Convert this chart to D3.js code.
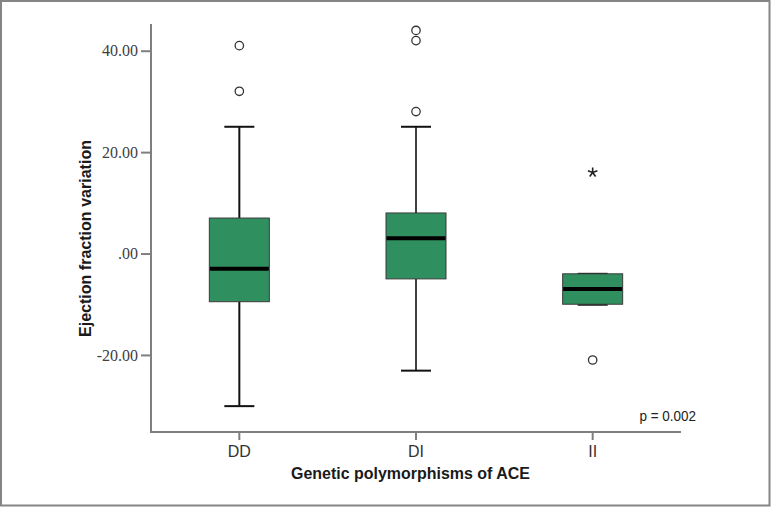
<!DOCTYPE html>
<html>
<head>
<meta charset="utf-8">
<script src="https://cdn.jsdelivr.net/npm/d3@7"></script>
<style>
  html, body { margin: 0; padding: 0; background: #fff; }
  svg { display: block; }
</style>
</head>
<body>
<svg id="chart" width="771" height="507"></svg>
<script>
// ---- data ----
const categories = ["DD", "DI", "II"];
const whiskerLow = [-30, -23, -10];
const q1 = [-9.5, -5, -10];
const median = [-3, 3, -7];
const q3 = [7, 8, -4];
const whiskerHigh = [25, 25, -4];
const outlierCats = ["DD", "DD", "DI", "DI", "DI", "II"];
const outlierValues = [41, 32, 44, 42, 28, -21];
const extremeCats = ["II"];
const extremeValues = [16];
const yTicks = [-20, 0, 20, 40];
const yTickLabels = ["-20.00", ".00", "20.00", "40.00"];
const xTitle = "Genetic polymorphisms of ACE";
const yTitle = "Ejection fraction variation";
const note = "p = 0.002";

(function () {
// ---- layout ----
const svg = d3.select("#chart");
const W = 771, H = 507;
const pLeft = 151, pRight = 681, pTop = 24, pBottom = 432;

svg.append("rect")
  .attr("x", 1).attr("y", 1).attr("width", W - 2.5).attr("height", H - 2.5)
  .attr("fill", "#fff").attr("stroke", "#858585").attr("stroke-width", 2);

const x = d3.scaleBand().domain(categories).range([pLeft, pRight]).padding(0);
const y = d3.scaleLinear().domain([-35.2, 45.27]).range([pBottom, pTop]);

const boxW = 60, capW = 30;
const fill = "#2f8f5e";

// axes
const yAxis = d3.axisLeft(y).tickValues(yTicks)
  .tickFormat((d, i) => yTickLabels[i]).tickSize(10).tickPadding(3).tickSizeOuter(0);
const gy = svg.append("g").attr("transform", `translate(${pLeft},0)`).call(yAxis);
gy.select(".domain").attr("stroke", "#7f7f7f").attr("stroke-width", 2)
  .attr("d", `M0,${pTop}V${pBottom}`);
gy.selectAll(".tick line").attr("stroke", "#7f7f7f").attr("stroke-width", 2);
gy.selectAll(".tick text").attr("font-family", "Liberation Serif, serif")
  .attr("font-size", 16).attr("fill", "#404040");

const xAxis = d3.axisBottom(x).tickSize(8).tickPadding(6).tickSizeOuter(0);
const gx = svg.append("g").attr("transform", `translate(0,${pBottom})`).call(xAxis);
gx.select(".domain").attr("stroke", "#7f7f7f").attr("stroke-width", 2)
  .attr("d", `M${pLeft - 1},0H${pRight}`);
gx.selectAll(".tick line").attr("stroke", "#7f7f7f").attr("stroke-width", 2);
gx.selectAll(".tick text").attr("font-family", "Liberation Sans, Arial, sans-serif")
  .attr("font-size", 16).attr("fill", "#333");

// boxes
const groups = svg.append("g").selectAll("g").data(categories).join("g");
const cx = d => x(d) + x.bandwidth() / 2;

groups.append("line")
  .attr("x1", cx).attr("x2", cx)
  .attr("y1", (d, i) => y(whiskerHigh[i])).attr("y2", (d, i) => y(q3[i]))
  .attr("stroke", "#111").attr("stroke-width", (d, i) => i === 1 ? 1.6 : 2);
groups.append("line")
  .attr("x1", cx).attr("x2", cx)
  .attr("y1", (d, i) => y(q1[i])).attr("y2", (d, i) => y(whiskerLow[i]))
  .attr("stroke", "#111").attr("stroke-width", (d, i) => i === 1 ? 1.6 : 2);
groups.append("line")
  .attr("x1", d => cx(d) - capW / 2).attr("x2", d => cx(d) + capW / 2)
  .attr("y1", (d, i) => y(whiskerHigh[i])).attr("y2", (d, i) => y(whiskerHigh[i]))
  .attr("stroke", "#111").attr("stroke-width", 2);
groups.append("line")
  .attr("x1", d => cx(d) - capW / 2).attr("x2", d => cx(d) + capW / 2)
  .attr("y1", (d, i) => y(whiskerLow[i]) + 0.5).attr("y2", (d, i) => y(whiskerLow[i]) + 0.5)
  .attr("stroke", "#111").attr("stroke-width", 2);

groups.append("rect")
  .attr("x", d => cx(d) - boxW / 2).attr("width", boxW)
  .attr("y", (d, i) => y(q3[i])).attr("height", (d, i) => y(q1[i]) - y(q3[i]))
  .attr("fill", fill).attr("stroke", "#3a3a3a").attr("stroke-width", 1);

groups.append("line")
  .attr("x1", d => cx(d) - boxW / 2 + 0.5).attr("x2", d => cx(d) + boxW / 2 - 0.5)
  .attr("y1", (d, i) => y(median[i])).attr("y2", (d, i) => y(median[i]))
  .attr("stroke", "#000").attr("stroke-width", 4);

// outliers
svg.append("g").selectAll("circle").data(outlierValues).join("circle")
  .attr("cx", (d, i) => cx(outlierCats[i])).attr("cy", d => y(d))
  .attr("r", 4.2).attr("fill", "#fff").attr("stroke", "#333").attr("stroke-width", 1.3);

// extremes (asterisk)
const star = d3.path();
for (let k = 0; k < 5; k++) {
  const a = -Math.PI / 2 + k * 2 * Math.PI / 5;
  star.moveTo(0, 0); star.lineTo(5 * Math.cos(a), 5 * Math.sin(a));
}
svg.append("g").selectAll("path").data(extremeValues).join("path")
  .attr("transform", (d, i) => `translate(${cx(extremeCats[i])},${y(d)})`)
  .attr("d", star.toString()).attr("fill", "none").attr("stroke", "#222").attr("stroke-width", 1.6);

// titles
svg.append("text")
  .attr("x", 410.5).attr("y", 478.5).attr("text-anchor", "middle")
  .attr("font-family", "Liberation Sans, Arial, sans-serif").attr("font-weight", "bold")
  .attr("font-size", 16.8).attr("fill", "#1a1a1a")
  .attr("textLength", 239).attr("lengthAdjust", "spacingAndGlyphs")
  .text(xTitle);

svg.append("text")
  .attr("transform", "translate(90.5,238.5) rotate(-90)").attr("text-anchor", "middle")
  .attr("font-family", "Liberation Sans, Arial, sans-serif").attr("font-weight", "bold")
  .attr("font-size", 16.8).attr("fill", "#1a1a1a")
  .attr("textLength", 197).attr("lengthAdjust", "spacingAndGlyphs")
  .text(yTitle);

svg.append("text")
  .attr("x", 639.5).attr("y", 421)
  .attr("font-family", "Liberation Sans, Arial, sans-serif")
  .attr("font-size", 14).attr("fill", "#222")
  .attr("textLength", 56.5).attr("lengthAdjust", "spacingAndGlyphs")
  .text(note);
})();
</script>
</body>
</html>
